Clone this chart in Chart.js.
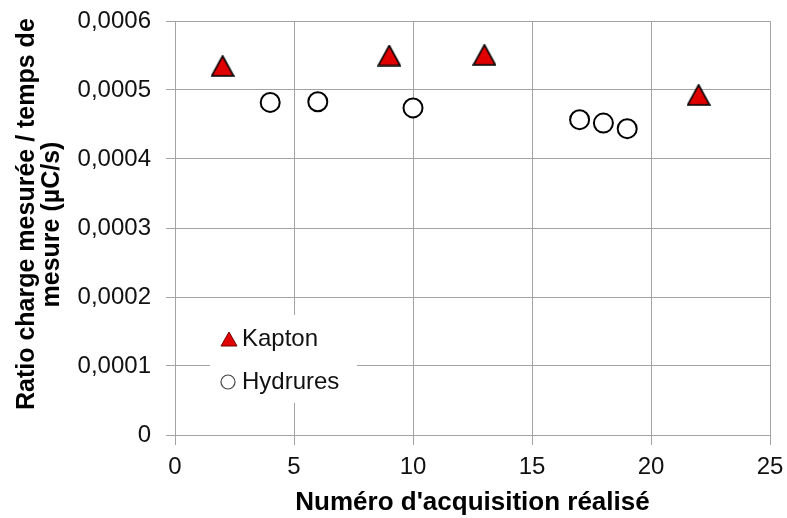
<!DOCTYPE html>
<html>
<head>
<meta charset="utf-8">
<script src="https://cdn.jsdelivr.net/npm/chart.js@4.4.0/dist/chart.umd.min.js"></script>
<style>
    body { margin: 0; background: #fff; }
    canvas { display: block; }
</style>
</head>
<body>
<canvas id="chart" width="787" height="518"></canvas>
<script>
const kaptonX = [2, 9, 13, 22];
const kaptonY = [0.000535, 0.000550, 0.000551, 0.000493];
const hydruresX = [4, 6, 10, 17, 18, 19];
const hydruresY = [0.000482, 0.000483, 0.000474, 0.000457, 0.000452, 0.000444];
const xTicks = [0, 5, 10, 15, 20, 25];
const yTicks = [0, 0.0001, 0.0002, 0.0003, 0.0004, 0.0005, 0.0006];

const FONT = "'Liberation Sans', Arial, sans-serif";
const GRID = '#a3a3a3';

// triangle marker centred on its bounding box, like Excel does
function makeTriangle(w, h, fill, stroke, lw) {
    const c = document.createElement('canvas');
    c.width = w + 2;
    c.height = h + 2;
    const ctx = c.getContext('2d');
    ctx.beginPath();
    ctx.moveTo(c.width / 2, 1);
    ctx.lineTo(c.width - 1, c.height - 1);
    ctx.lineTo(1, c.height - 1);
    ctx.closePath();
    ctx.fillStyle = fill;
    ctx.fill();
    ctx.lineWidth = lw;
    ctx.strokeStyle = stroke;
    ctx.lineJoin = 'miter';
    ctx.stroke();
    return c;
}

const triBig = makeTriangle(22, 20, '#e00000', '#000', 1.6);
const triSmall = makeTriangle(16, 14, '#e00000', '#700', 1);

const insideLegend = {
    id: 'insideLegend',
    afterDatasetsDraw(chart) {
        const ctx = chart.ctx;
        const ds = chart.data.datasets;
        ctx.save();
        ctx.fillStyle = '#fff';
        ctx.fillRect(210, 315, 147, 88);
        ctx.font = '24px ' + FONT;
        ctx.fillStyle = '#111';
        ctx.textBaseline = 'middle';
        ctx.textAlign = 'left';

        ctx.drawImage(triSmall, 229 - triSmall.width / 2, 339 - triSmall.height / 2);
        ctx.fillText(ds[0].label, 242, 339);

        ctx.beginPath();
        ctx.arc(228, 382, 7, 0, Math.PI * 2);
        ctx.fillStyle = '#fff';
        ctx.fill();
        ctx.lineWidth = 1.2;
        ctx.strokeStyle = '#444';
        ctx.stroke();
        ctx.fillStyle = '#111';
        ctx.fillText(ds[1].label, 242, 382);
        ctx.restore();
    }
};

new Chart(document.getElementById('chart'), {
    type: 'scatter',
    data: {
        datasets: [
            {
                label: 'Kapton',
                data: kaptonX.map((x, i) => ({ x: x, y: kaptonY[i] })),
                pointStyle: triBig,
                pointRadius: 11
            },
            {
                label: 'Hydrures',
                data: hydruresX.map((x, i) => ({ x: x, y: hydruresY[i] })),
                pointStyle: 'circle',
                pointRadius: 9.5,
                borderWidth: 2,
                borderColor: '#000',
                backgroundColor: '#fff'
            }
        ]
    },
    options: {
        responsive: false,
        animation: false,
        layout: { padding: { left: 10, right: 17, top: 21, bottom: 0 } },
        plugins: {
            legend: { display: false },
            tooltip: { enabled: false }
        },
        scales: {
            x: {
                type: 'linear',
                min: 0,
                max: 25,
                afterBuildTicks: (s) => { s.ticks = xTicks.map(v => ({ value: v })); },
                afterFit: (s) => { s.height = 83; s.paddingLeft = 0; s.paddingRight = 0; },
                grid: { color: GRID, tickLength: 10, tickColor: GRID },
                border: { color: GRID },
                ticks: { color: '#111', font: { family: FONT, size: 24 }, padding: 8, maxRotation: 0 },
                title: {
                    display: true,
                    text: "Numéro d'acquisition réalisé",
                    color: '#000',
                    font: { family: FONT, size: 26, weight: 'bold', lineHeight: 1.2 },
                    padding: { top: 0, bottom: 0 }
                }
            },
            y: {
                min: 0,
                max: 0.0006,
                afterBuildTicks: (s) => { s.ticks = yTicks.map(v => ({ value: v })); },
                afterFit: (s) => { s.width = 165; s.paddingTop = 0; s.paddingBottom = 0; },
                grid: { color: GRID, tickLength: 9, tickColor: GRID },
                border: { color: GRID },
                ticks: {
                    color: '#111',
                    font: { family: FONT, size: 24 },
                    padding: 15,
                    callback: (v) => v === 0 ? '0' : v.toFixed(4).replace('.', ',')
                },
                title: {
                    display: true,
                    text: ['    Ratio charge mesurée / temps de', ' mesure (µC/s)'],
                    color: '#000',
                    font: { family: FONT, size: 25, weight: 'bold', lineHeight: 1.0 },
                    padding: { top: 4.5, bottom: 0 }
                }
            }
        }
    },
    plugins: [insideLegend]
});
</script>
</body>
</html>
